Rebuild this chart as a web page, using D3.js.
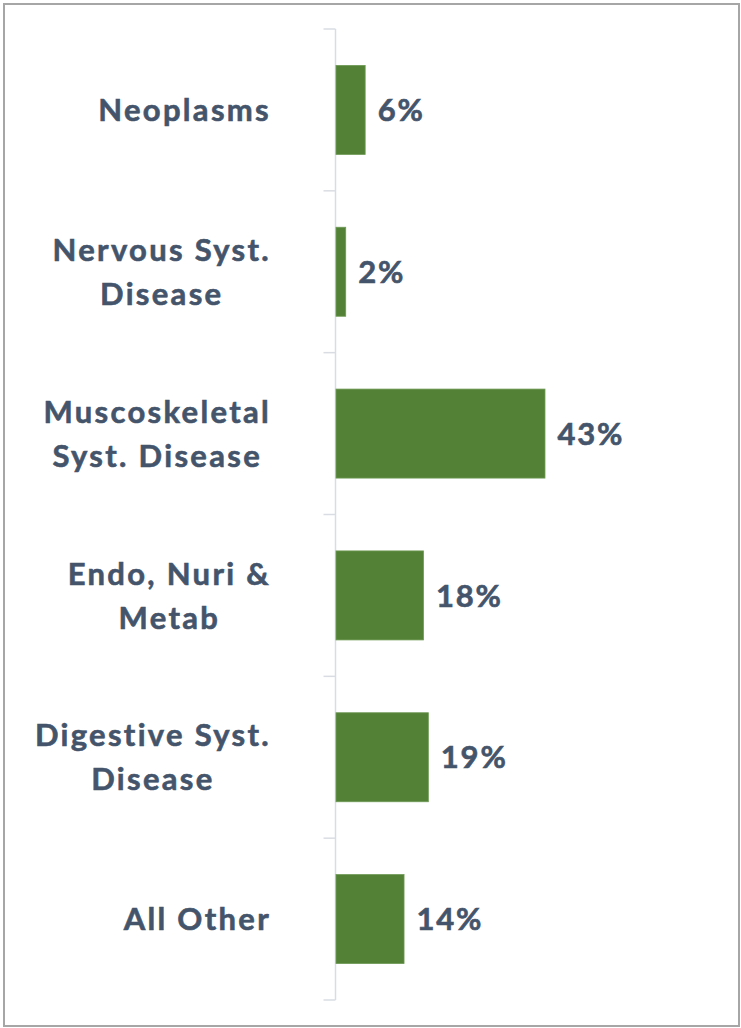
<!DOCTYPE html>
<html>
<head>
<meta charset="utf-8">
<script src="https://cdn.jsdelivr.net/npm/d3@7"></script>
<style>
  html, body { margin: 0; padding: 0; background: #fff; }
  svg { display: block; }
  .cat text, .val { font-family: Lato, "Liberation Sans", sans-serif; font-weight: bold; fill: #44546A; stroke: #44546A; stroke-width: 0.6px; }
  .cat text { letter-spacing: 2.3px; }
  .val { letter-spacing: 1.8px; }
</style>
</head>
<body>
<svg id="chart" width="741" height="1028"></svg>
<script>
// categories, each split into its display lines
var categories = ["Neoplasms", "Nervous Syst. Disease", "Muscoskeletal Syst. Disease", "Endo, Nuri & Metab", "Digestive Syst. Disease", "All Other"];
var labelLines = [["Neoplasms"], ["Nervous Syst.", "Disease"], ["Muscoskeletal", "Syst. Disease"], ["Endo, Nuri &", "Metab"], ["Digestive Syst.", "Disease"], ["All Other"]];
var shares = [0.06, 0.02, 0.43, 0.18, 0.19, 0.14];

var svg = d3.select("#chart");
var fontSize = 31, lineH = 44;
var barColor = "#538135";

// frame round the picture
svg.append("rect")
  .attr("x", 4).attr("y", 4).attr("width", 735).attr("height", 1022)
  .attr("fill", "none").attr("stroke", "#A6A6A6").attr("stroke-width", 2);

var axisX = 335.5;

var y = d3.scaleBand()
  .domain(categories)
  .range([29, 1000])
  .paddingInner(0.45)
  .paddingOuter(0.225);

var x = d3.scaleLinear()
  .domain([0, 0.5])
  .range([axisX, axisX + 243]);

// axis line and ticks at band boundaries
var axis = svg.append("g");
axis.append("line")
  .attr("x1", axisX).attr("x2", axisX)
  .attr("y1", y.range()[0]).attr("y2", y.range()[1])
  .attr("stroke", "#D9DDE3").attr("stroke-width", 1.5);

var step = y.step();
var boundaries = d3.range(categories.length + 1).map(function(i) { return y.range()[0] + i * step; });
axis.selectAll("line.tick")
  .data(boundaries)
  .enter().append("line")
  .attr("class", "tick")
  .attr("x1", axisX - 12).attr("x2", axisX)
  .attr("y1", function(d) { return d; })
  .attr("y2", function(d) { return d; })
  .attr("stroke", "#D9DDE3").attr("stroke-width", 1.5);

// bars
svg.selectAll("rect.bar")
  .data(shares)
  .enter().append("rect")
  .attr("class", "bar")
  .attr("x", x(0) + 0.5)
  .attr("y", function(d, i) { return y(categories[i]); })
  .attr("width", function(d) { return x(d) - x(0); })
  .attr("height", y.bandwidth())
  .attr("fill", barColor)
  .attr("stroke", "#6E9A55").attr("stroke-width", 0.8);

// value labels
svg.selectAll("text.val")
  .data(shares)
  .enter().append("text")
  .attr("class", "val")
  .attr("x", function(d) { return x(d) + 13; })
  .attr("y", function(d, i) { return y(categories[i]) + y.bandwidth() / 2; })
  .attr("dy", "0.36em")
  .style("font-size", fontSize + "px")
  .text(function(d) { return d3.format(".0%")(d); });

// category labels: lines centred within a block whose right edge is near x=270
var cat = svg.append("g").attr("class", "cat");
labelLines.forEach(function(lines, i) {
  var cy = y(categories[i]) + y.bandwidth() / 2;
  var g = cat.append("g");
  var texts = g.selectAll("text")
    .data(lines)
    .enter().append("text")
    .style("font-size", fontSize + "px")
    .attr("text-anchor", "middle")
    .attr("y", function(d, j) { return cy + (j - (lines.length - 1) / 2) * lineH; })
    .attr("dy", "0.36em")
    .text(function(d) { return d; });
  var maxW = d3.max(texts.nodes(), function(n) { return n.getComputedTextLength(); });
  texts.attr("x", 271 - maxW / 2);
});
</script>
</body>
</html>
